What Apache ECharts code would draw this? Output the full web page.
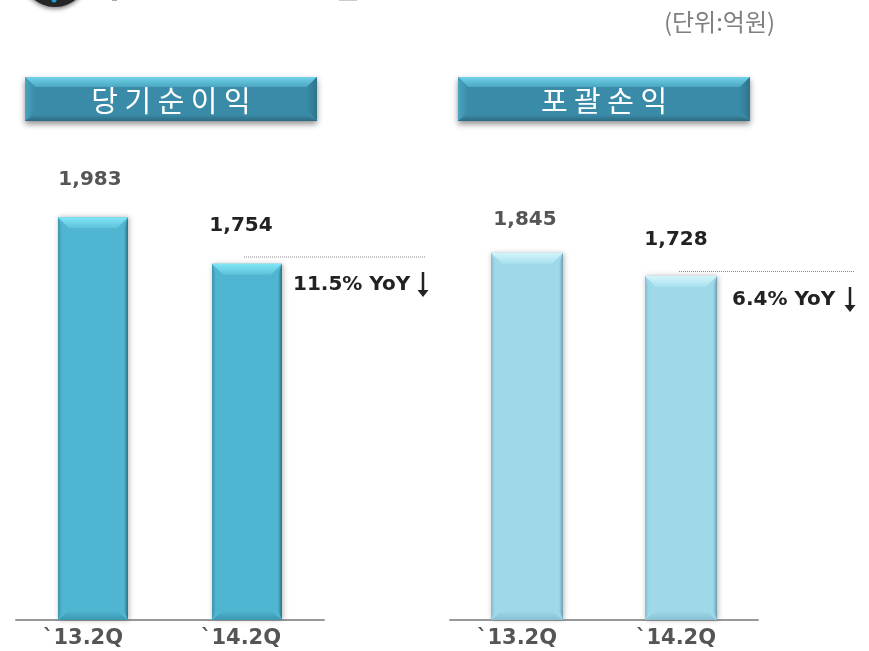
<!DOCTYPE html>
<html><head><meta charset="utf-8">
<style>html,body{margin:0;padding:0;background:#fff}#c{width:869px;height:651px}</style>
<script src="https://cdn.jsdelivr.net/npm/echarts@6/dist/echarts.min.js"></script>
</head><body><div id="c"></div>
<script>
const categories = ['`13.2Q', '`14.2Q'];
const netIncome = [1983, 1754];
const comprehensiveIncome = [1845, 1728];
const panelTitles = ['당 기 순 이 익', '포 괄 손 익'];
const yoyNotes = ['11.5% YoY', '6.4% YoY'];
const unitLabel = '(단위:억원)';

const FONT = '"Noto Sans CJK KR","Noto Sans",sans-serif';
const NUM = '"DejaVu Sans",sans-serif';
const chart = echarts.init(document.getElementById('c'), null, {renderer:'canvas'});
const vgrad = (a,b) => new echarts.graphic.LinearGradient(0,0,0,1,[{offset:0,color:a},{offset:1,color:b}]);
const hgrad = (a,b) => new echarts.graphic.LinearGradient(0,0,1,0,[{offset:0,color:a},{offset:1,color:b}]);

function bevelBar(pal){
  return function(params, api){
    const v = api.value(1), cat = api.value(0);
    const top = api.coord([cat, v]), base = api.coord([cat, 0]);
    const w = api.size([1,0])[0] * pal.ratio;
    const x0 = top[0]-w/2, x1 = top[0]+w/2, y0 = top[1], y1 = base[1];
    const b = 11, sx = 4, bb = 9;
    const poly = (pts, fill) => ({type:'polygon', shape:{points:pts}, style:{fill}});
    return {type:'group', children:[
      {type:'rect', shape:{x:x0,y:y0,width:w,height:y1-y0},
        style:{fill:pal.face, shadowBlur:5, shadowColor:'rgba(0,0,0,0.3)', shadowOffsetX:1, shadowOffsetY:0}},
      poly([[x0,y0],[x1,y0],[x1-b,y0+b],[x0+b,y0+b]], vgrad(pal.top1,pal.top2)),
      poly([[x0,y0],[x0+sx,y0+b],[x0+sx,y1-bb],[x0,y1]], hgrad(pal.left,pal.face)),
      poly([[x1,y0],[x1-sx,y0+b],[x1-sx,y1-bb],[x1,y1]], hgrad(pal.face,pal.right)),
      poly([[x0,y1],[x1,y1],[x1-b,y1-bb],[x0+b,y1-bb]], vgrad(pal.face,pal.bottom))
    ]};
  };
}
const dark = {face:'#50b5d0', top1:'#83e6f7', top2:'#5cc2da', left:'#3d93ab', right:'#2a6f84', bottom:'#3b97b0', ratio:70/154};
const light = {face:'#9ed8e9', top1:'#d2f5fb', top2:'#a8e0ee', left:'#86bccd', right:'#6f9fb0', bottom:'#86c0d2', ratio:72/154};

function banner(x, y, w, h, text){
  const b = 10;
  const p = (pts, fill) => ({type:'polygon', silent:true, shape:{points:pts}, style:{fill}});
  return [
    {type:'rect', silent:true, shape:{x,y,width:w,height:h}, style:{fill:'#3a8ba8', shadowBlur:6, shadowColor:'rgba(0,0,0,0.45)', shadowOffsetY:3}},
    p([[x,y],[x+w,y],[x+w-b,y+b],[x+b,y+b]], vgrad('#72d3ea','#4aa6c1')),
    p([[x,y],[x+b,y+b],[x+b,y+h-b],[x,y+h]], hgrad('#4aa4bf','#3a8ba8')),
    p([[x+w,y],[x+w-b,y+b],[x+w-b,y+h-b],[x+w,y+h]], hgrad('#3a8ba8','#2f7389')),
    p([[x,y+h],[x+w,y+h],[x+w-b,y+h-6],[x+b,y+h-6]], vgrad('#3a8ba8','#2c6a80')),
    {type:'text', silent:true, style:{x:x+w/2,y:y+h/2+2,text,fill:'#fff',font:'29px '+FONT,align:'center',verticalAlign:'middle'}}
  ];
}
function note(x, y, text, arrowX){
  return [
    {type:'text', silent:true, style:{x,y:y+1,text,fill:'#222',font:'bold 20px '+NUM,align:'left',verticalAlign:'middle'}},
    {type:'line', silent:true, shape:{x1:arrowX,y1:y-12,x2:arrowX,y2:y+8}, style:{stroke:'#222',lineWidth:2.5}},
    {type:'polygon', silent:true, shape:{points:[[arrowX-5.5,y+6],[arrowX+5.5,y+6],[arrowX,y+13]]}, style:{fill:'#222'}}
  ];
}
function dotted(x1,x2,y){
  return {type:'line', silent:true, shape:{x1,y1:y,x2,y2:y}, style:{stroke:'#888',lineWidth:1,lineDash:[1,1]}};
}
const grids = [
  {left:16, width:308, top:100, height:520},
  {left:450, width:308, top:100, height:520}
];
const mkX = (i,pads) => ({gridIndex:i, type:'category', data:categories, axisTick:{show:false},
  axisLine:{lineStyle:{color:'#999',width:2}},
  axisLabel:{margin:8,
    formatter:(v,k)=>'{p'+k+'|'+v+'}',
    rich:{
      p0:{color:'#555',fontFamily:NUM,fontWeight:'bold',fontSize:21,padding:[0,pads[0],0,0]},
      p1:{color:'#555',fontFamily:NUM,fontWeight:'bold',fontSize:21,padding:[0,pads[1],0,0]}
    }}});
const mkY = (i,max) => ({gridIndex:i, type:'value', min:0, max, show:false, splitLine:{show:false}});
const mkS = (i,data,pal) => ({
  type:'custom', xAxisIndex:i, yAxisIndex:i, silent:true,
  data:data.map((v,k)=>[k,v]), encode:{x:0,y:1}, clip:false,
  renderItem:bevelBar(pal), z:2
});
const mkL = (i,data,offsets) => ({
  type:'scatter', xAxisIndex:i, yAxisIndex:i, symbolSize:0, silent:true, z:3,
  itemStyle:{opacity:1},
  data:data.map((v,k)=>({value:[k,v],
    label:{show:true,position:'top',distance:offsets[k][1],offset:[offsets[k][0],0],
      formatter:echarts.format.addCommas(v),fontFamily:NUM,fontWeight:'bold',fontSize:20,color:offsets[k][2]}}))
});
chart.setOption({
  animation:false,
  backgroundColor:'#fff',
  grid:grids,
  xAxis:[mkX(0,[20,12]),mkX(1,[20,10])],
  yAxis:[mkY(0,2560),mkY(1,2613)],
  series:[
    mkS(0,netIncome,dark),
    mkS(1,comprehensiveIncome,light),
    mkL(0,netIncome,[[-3,27,'#555'],[-6,28,'#222']]),
    mkL(1,comprehensiveIncome,[[-2,23,'#555'],[-5,26,'#222']])
  ],
  graphic:{elements:[
    {type:'circle', silent:true, shape:{cx:55,cy:-26,r:33}, style:{fill:'#262626', shadowBlur:4, shadowColor:'rgba(0,0,0,.5)', shadowOffsetY:2}},
    {type:'circle', silent:true, shape:{cx:54,cy:0,r:2.5}, style:{fill:'#1a9cd8'}},
    {type:'rect', silent:true, shape:{x:112,y:0,width:5,height:1}, style:{fill:'#aaa'}},
    {type:'rect', silent:true, shape:{x:339,y:0,width:18,height:1}, style:{fill:'#ccc'}},
    {type:'text', silent:true, style:{x:719.5,y:22,text:unitLabel,fill:'#808080',font:'24px '+FONT,align:'center',verticalAlign:'middle'}},
    ...banner(25,77,292,44,panelTitles[0]),
    ...banner(458,77,292,44,panelTitles[1]),
    dotted(244,426,257),
    dotted(679,854,271.5),
    ...note(293,284,yoyNotes[0],423),
    ...note(732,299,yoyNotes[1],850)
  ]}
});
</script></body></html>
